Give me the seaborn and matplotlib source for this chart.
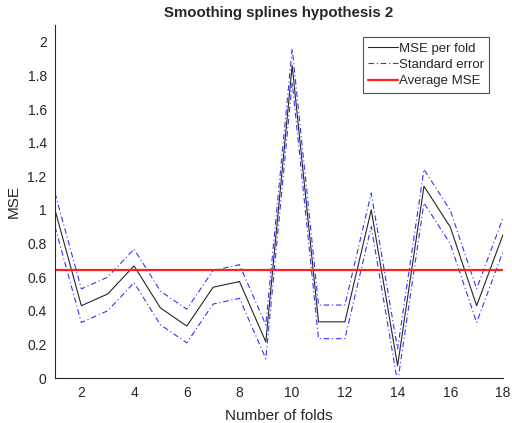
import matplotlib
matplotlib.use("Agg")
import matplotlib.pyplot as plt
import seaborn as sns
import numpy as np
import pandas as pd

folds = list(range(1, 19))
mse = [1.00, 0.43, 0.50, 0.667, 0.417, 0.309, 0.54, 0.574, 0.215,
       1.86, 0.334, 0.334, 1.00, 0.073, 1.141, 0.898, 0.43, 0.853]
se = [0.1] * 18
avg_mse = 0.643

title = "Smoothing splines hypothesis 2"
xlabel = "Number of folds"
ylabel = "MSE"
xticks = [2, 4, 6, 8, 10, 12, 14, 16, 18]
yticks = [0, 0.2, 0.4, 0.6, 0.8, 1, 1.2, 1.4, 1.6, 1.8, 2]

sns.set_theme(style="white")
plt.rcParams['font.family'] = ['Liberation Sans', 'DejaVu Sans']

df = pd.DataFrame({"fold": folds, "mse": mse, "se": se})
df["upper"] = df["mse"] + df["se"]
df["lower"] = df["mse"] - df["se"]

fig = plt.figure(figsize=(5.12, 4.23), dpi=100)
ax = fig.add_axes([55 / 512, 1 - 378 / 423, (503 - 55) / 512, (378 - 25) / 423])

sns.lineplot(data=df, x="fold", y="mse", ax=ax, color="#262626", lw=0.8, label="MSE per fold")
sns.lineplot(data=df, x="fold", y="upper", ax=ax, color="#3333ff", lw=0.8,
             dashes=False, label="Standard error")
sns.lineplot(data=df, x="fold", y="lower", ax=ax, color="#3333ff", lw=0.8,
             label="_nolegend_")
for ln in ax.lines[1:3]:
    ln.set_dashes([5, 2.5, 1, 2.5])
ax.axhline(avg_mse, color="#ff2020", lw=1.6, label="Average MSE")

ax.set_xlim(1, 18)
ax.set_ylim(0, 2.1)
ax.set_xticks(xticks)
ax.set_yticks(yticks)
ax.set_yticklabels([("%g" % v) for v in yticks])
ax.tick_params(direction="in", length=4, width=0.8, colors="#262626", labelsize=10, pad=6)
for s in ["top", "right"]:
    ax.spines[s].set_visible(False)
for s in ["left", "bottom"]:
    ax.spines[s].set_color("#262626")
    ax.spines[s].set_linewidth(0.8)

ax.set_title(title, fontsize=10.8, fontweight="bold", pad=6)
ax.set_xlabel(xlabel, fontsize=11, labelpad=6)
ax.set_ylabel(ylabel, fontsize=11, labelpad=5)

leg = ax.legend(loc="upper right", bbox_to_anchor=(0.969, 0.965), fontsize=9.5, frameon=True,
                fancybox=False, edgecolor="#262626", handlelength=2.2, handletextpad=0.1,
                borderpad=0.4, labelspacing=0.3, borderaxespad=0)
leg.get_frame().set_linewidth(0.8)

fig.savefig("out.png", dpi=100)
